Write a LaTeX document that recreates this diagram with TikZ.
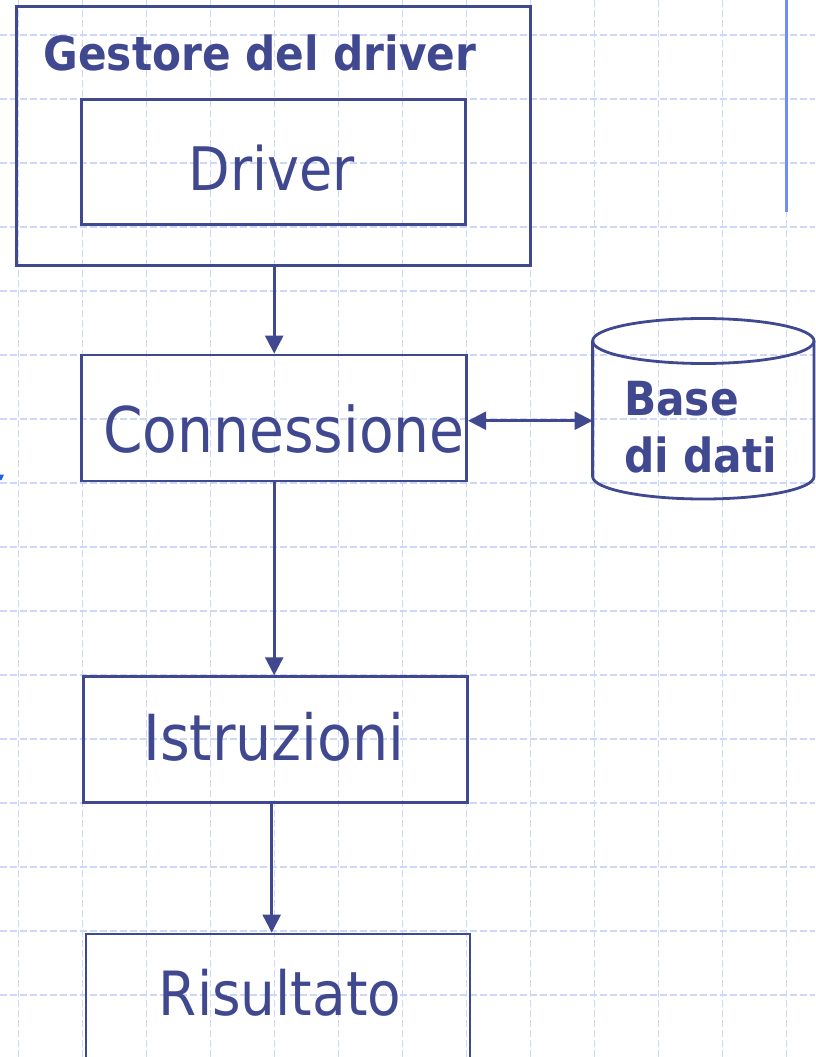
\documentclass[tikz,border=0pt]{standalone}
\usepackage{fontspec}
\setmainfont{DejaVu Sans Condensed}
\usetikzlibrary{arrows.meta}
\definecolor{ink}{HTML}{404890}
\definecolor{gridc}{HTML}{CCD8F8}
\definecolor{sidebar}{HTML}{6F8FF2}
\definecolor{markblue}{HTML}{1466E6}
\tikzset{
  box/.style={draw=ink, line width=2.8pt, inner sep=0pt},
  outerbox/.style={draw=ink, line width=3pt, inner sep=0pt},
  big/.style={text=ink, inner sep=0pt, anchor=base, font=\fontsize{60}{60}\selectfont},
  bold/.style={text=ink, inner sep=0pt, font=\bfseries\fontsize{47}{47}\selectfont},
  conn/.style={draw=ink, line width=2.6pt, -{Triangle[length=18pt,width=18pt]}},
  dconn/.style={draw=ink, line width=2.6pt, {Triangle[length=18pt,width=18pt]}-{Triangle[length=18pt,width=18pt]}},
  gridline/.style={draw=gridc, line width=1.1pt, dash pattern=on 7pt off 3pt}
}
\begin{document}
\begin{tikzpicture}[x=1pt,y=-1pt]
\useasboundingbox (0,0) rectangle (815,1057);
\fill[white] (0,0) rectangle (815,1057);
% grid
\foreach \gx in {18.3,82.3,...,800} {\draw[gridline] (\gx,0) -- (\gx,1057);}
\foreach \gy in {35,99,...,1057} {\draw[gridline] (0,\gy) -- (815,\gy);}
% side decorations
\draw[sidebar, line width=2.2pt] (786.5,0) -- (786.5,211.5);
\fill[markblue] (0,474.5) -- (4,474.5) -- (1.5,480) -- (0,480) -- cycle;
% boxes
\node[outerbox, minimum width=514pt, minimum height=258pt] (gest) at (273,136) {};
\node[box, minimum width=384pt, minimum height=125pt] (drv) at (273.6,161.8) {};
\node[box, minimum width=385pt, minimum height=126pt] (con) at (274.2,418) {};
\node[box, minimum width=384pt, minimum height=125.6pt] (ist) at (275.2,739.5) {};
\node[box, minimum width=384pt, minimum height=126pt] (ris) at (278,997) {};
% cylinder
\coordinate (dbc) at (703.3,341);
\draw[ink, line width=2.8pt] (592.6,341) -- (592.6,476.5) arc[start angle=180, end angle=360, x radius=110.7pt, y radius=22.5pt] -- (814,341);
\draw[ink, line width=2.8pt] (dbc) ellipse[x radius=110.7pt, y radius=22.5pt];
\coordinate (db) at (592.6,420.7);
\coordinate (istb) at (271.7,802.3);
% texts
\node[bold, anchor=base] (gestlbl) at (260,70.7) {Gestore del driver};
\node[big] (drvlbl) at (271.5,190) {Driver};
\node[big, font=\fontsize{63}{63}\selectfont] (conlbl) at (284,452) {Connessione};
\node[big, font=\fontsize{63.5}{63.5}\selectfont] (istlbl) at (274,760.7) {Istruzioni};
\node[big, font=\fontsize{61}{61}\selectfont] (rislbl) at (280,1015) {Risultato};
\node[bold, anchor=base west] (dblbl1) at (624,415) {Base};
\node[bold, anchor=base west] (dblbl2) at (624,472) {di dati};
% connectors
\draw[conn] (gest.south -| con.north) -- (con.north);
\draw[conn] (con.south) -- (con.south |- ist.north);
\draw[conn] (istb) -- (istb |- ris.north);
\draw[dconn] (con.east |- db) -- (db);
\end{tikzpicture}
\end{document}
